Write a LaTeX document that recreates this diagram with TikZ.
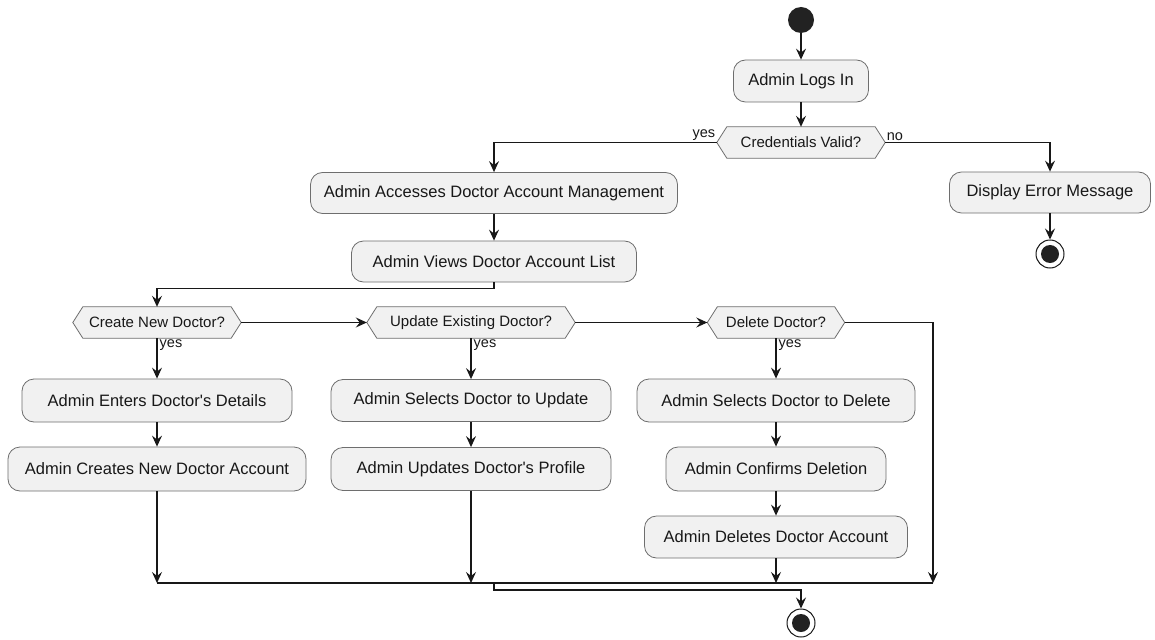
\documentclass[tikz,border=0pt]{standalone}
\usepackage{fontspec}
\setmainfont{Liberation Sans}
\usetikzlibrary{arrows.meta,backgrounds,calc}

\definecolor{actfill}{HTML}{F1F1F1}
\definecolor{actline}{HTML}{6E6E6E}
\definecolor{ink}{HTML}{181818}
\definecolor{dot}{HTML}{222222}

\begin{document}
\begin{tikzpicture}[x=1pt,y=-1pt,
  act/.style={draw=actline, fill=actfill, line width=0.8pt, rounded corners=12pt,
    minimum height=42pt, inner sep=0pt, text=ink,
    font=\fontsize{16.5}{18}\selectfont},
  hexnode/.style={minimum height=31pt, inner sep=0pt, text=ink,
    font=\fontsize{15}{17}\selectfont},
  hexline/.style={draw=actline, fill=actfill, line width=0.8pt},
  startdot/.style={circle, fill=dot, minimum size=26pt, inner sep=0pt},
  enddot/.style={circle, draw=ink, fill=white, line width=1pt, minimum size=28pt, inner sep=0pt,
    path picture={\fill[dot] (path picture bounding box.center) circle (9pt);}},
  flow/.style={draw=ink, line width=1.1pt},
  arr/.style={flow, -{Stealth[length=11pt, width=10pt, inset=4pt]}},
  lbl/.style={text=ink, inner sep=1.5pt, font=\fontsize{14.5}{16}\selectfont}
]
\useasboundingbox (0,0) rectangle (1155,639);

% login and credential check
\node[startdot] (start) at (801,20) {};
\node[act, minimum width=135pt] (logs) at (801,81) {Admin Logs In};
\node[hexnode, minimum width=168pt] (cred) at (801,142.5) {Credentials Valid?};
\node[act, minimum width=367pt, minimum height=41pt] (access) at (494,193) {Admin Accesses Doctor Account Management};
\node[act, minimum width=285pt, minimum height=41pt] (views) at (494,261.5) {Admin Views Doctor Account List};
\node[act, minimum width=201pt, minimum height=41pt] (error) at (1050,192.5) {Display Error Message};
\node[enddot] (end1) at (1050,254) {};

% the three decisions
\node[hexnode, minimum width=168pt] (create) at (157,322.5) {Create New Doctor?};
\node[hexnode, minimum width=208pt] (update) at (471,322.5) {Update Existing Doctor?};
\node[hexnode, minimum width=137pt] (delete) at (776,322.5) {Delete Doctor?};

% create branch
\node[act, minimum width=270pt, minimum height=43pt] (enters) at (157,400.5) {Admin Enters Doctor\textquotesingle s Details};
\node[act, minimum width=298pt, minimum height=44pt] (creates) at (157,469) {Admin Creates New Doctor Account};

% update branch
\node[act, minimum width=280pt] (selupd) at (471,400.5) {Admin Selects Doctor to Update};
\node[act, minimum width=280pt, minimum height=43pt] (updprof) at (471,469) {Admin Updates Doctor\textquotesingle s Profile};

% delete branch
\node[act, minimum width=278pt, minimum height=43pt] (seldel) at (776,400.5) {Admin Selects Doctor to Delete};
\node[act, minimum width=220pt, minimum height=44pt] (confirm) at (776,469) {Admin Confirms Deletion};
\node[act, minimum width=263pt] (deletes) at (776,537) {Admin Deletes Doctor Account};

\node[enddot] (end2) at (801,623) {};

% hexagon outlines behind the decision texts
\begin{scope}[on background layer]
  \fill[white] (0,0) rectangle (1155,639);
  \foreach \n in {cred,create,update,delete}
    \draw[hexline] (\n.west) -- ($(\n.north west)+(10,0)$) -- ($(\n.north east)+(-10,0)$)
      -- (\n.east) -- ($(\n.south east)+(-10,0)$) -- ($(\n.south west)+(10,0)$) -- cycle;
\end{scope}

% merge points
\coordinate (mergeL) at (157,583);
\coordinate (mergeR) at (933,583);
\coordinate (join) at (494,583);

% connectors
\draw[arr] (start) -- (logs);
\draw[arr] (logs) -- (cred);
\draw[arr] (cred.west) -| (access.north);
\node[lbl, anchor=south east] (yes0) at (cred.west) {yes};
\draw[arr] (cred.east) -| (error.north);
\node[lbl, anchor=south west] (no0) at (cred.east) {no};
\draw[arr] (error) -- (end1);
\draw[arr] (access) -- (views);
\draw[arr] (views.south) -- ++(0,6) -| (create.north);

\draw[arr] (create) -- (update);
\draw[arr] (update) -- (delete);
\draw[arr] (delete.east) -| (mergeR);

\draw[arr] (create) -- (enters);
\node[lbl, anchor=north west] (yes1) at ($(create.south)+(1,0)$) {yes};
\draw[arr] (enters) -- (creates);
\draw[arr] (creates) -- (mergeL);

\draw[arr] (update) -- (selupd);
\node[lbl, anchor=north west] (yes2) at ($(update.south)+(1,0)$) {yes};
\draw[arr] (selupd) -- (updprof);
\draw[arr] (updprof.south) -- (updprof.south |- mergeL);

\draw[arr] (delete) -- (seldel);
\node[lbl, anchor=north west] (yes3) at ($(delete.south)+(1,0)$) {yes};
\draw[arr] (seldel) -- (confirm);
\draw[arr] (confirm) -- (deletes);
\draw[arr] (deletes.south) -- (deletes.south |- mergeL);

\draw[flow] (mergeL) -- (mergeR);
\draw[arr] (join) -- ++(0,7) -| (end2.north);
\end{tikzpicture}
\end{document}
